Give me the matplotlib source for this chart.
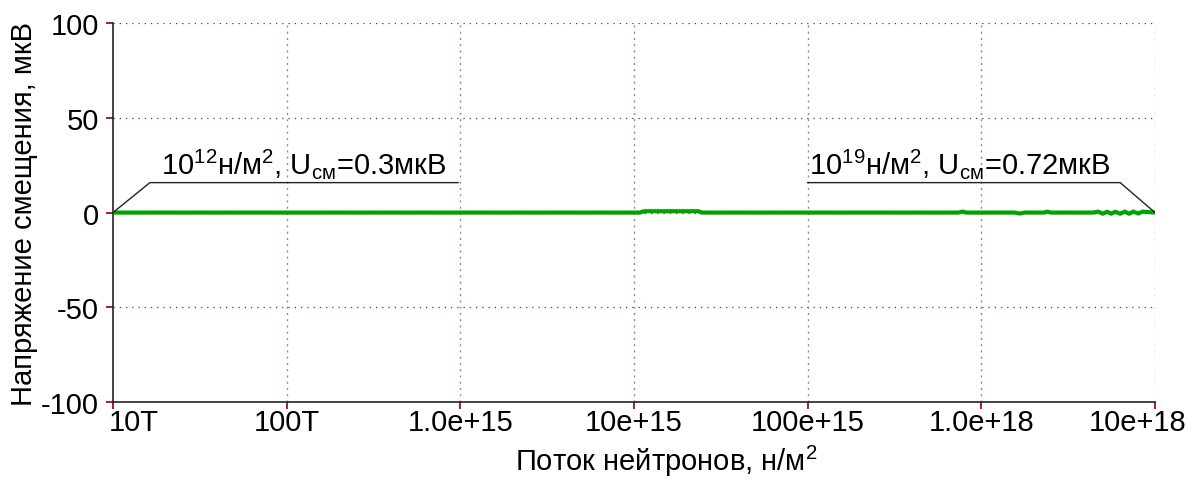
import matplotlib
matplotlib.use("Agg")
import matplotlib.pyplot as plt
from matplotlib.transforms import offset_copy

# ===========================================================
# Data
# ===========================================================
flux = [1e13, 1e14, 1e15, 1.08e16, 1.15e16, 2.35e16, 2.45e16, 1e17,
        7.4e17, 7.8e17, 8.2e17, 1.55e18, 1.66e18, 1.77e18, 2.3e18,
        2.4e18, 2.5e18, 4.4e18, 4.7e18, 5.0e18, 5.3e18, 5.6e18, 5.9e18,
        6.3e18, 6.7e18, 7.1e18, 7.5e18, 8.0e18, 8.5e18, 9.0e18, 1e19]
u_bias = [0.0, 0.0, 0.0, 0.0, 0.7, 0.7, 0.0, 0.0,
          0.0, 0.5, 0.0, 0.0, -0.5, 0.0, 0.0,
          0.5, 0.0, 0.0, 0.5, -0.6, 0.4, -0.6, 0.4,
          -0.6, 0.5, -0.6, 0.5, -0.5, 0.5, 0.3, 0.0]

xticks = [1e13, 1e14, 1e15, 1e16, 1e17, 1e18, 1e19]
xtick_labels = ['10T', '100T', '1.0e+15', '10e+15', '100e+15', '1.0e+18', '10e+18']
yticks = [-100, -50, 0, 50, 100]

# ===========================================================
# Style
# ===========================================================
GREEN = '#00a400'
GRID_H = '#8b2020'
GRID_V = '#b08080'
TICK_C = '#8b0000'
FS = 21

plt.rcParams.update({
    'font.family': ['Liberation Sans', 'DejaVu Sans'],
    'mathtext.fontset': 'custom',
    'mathtext.rm': 'Liberation Sans',
    'mathtext.it': 'Liberation Sans',
    'axes.unicode_minus': False,
})

fig = plt.figure(figsize=(12.01, 4.81), dpi=100)
ax = fig.add_axes([0.0941, 0.162, 0.8676, 0.788])

ax.plot(flux, u_bias, color=GREEN, linewidth=3.0, solid_capstyle='butt', zorder=5)

ax.set_xscale('log')
ax.set_xlim(1e13, 1e19)
ax.set_ylim(-100, 100)
ax.set_xticks(xticks)
ax.set_xticklabels(xtick_labels)
ax.minorticks_off()
ax.set_yticks(yticks)

for y in yticks[1:]:
    ax.axhline(y, color=GRID_H, linestyle=(0, (1, 4)), linewidth=0.9, zorder=0)
for x in xticks[1:]:
    ax.axvline(x, color=GRID_V, linestyle=(0, (1.5, 3)), linewidth=1.0, zorder=0)

for side in ['top', 'right']:
    ax.spines[side].set_visible(False)
for side in ['left', 'bottom']:
    ax.spines[side].set_color('#222222')
    ax.spines[side].set_linewidth(1.2)

ax.tick_params(axis='both', labelsize=FS, color=TICK_C, length=5, width=1.2,
               direction='out')
ax.tick_params(axis='y', pad=5)
ax.tick_params(axis='x', pad=-1)

# first label sits right of the axis, last one is pulled inside the figure
xlabels = ax.get_xticklabels()
xlabels[0].set_horizontalalignment('left')
xlabels[0].set_transform(offset_copy(xlabels[0].get_transform(), fig=fig,
                                     x=-4, y=0, units='dots'))
xlabels[-1].set_transform(offset_copy(xlabels[-1].get_transform(), fig=fig,
                                      x=-17, y=0, units='dots'))

ax.set_xlabel('Поток нейтронов, н/м$^2$', fontsize=FS)
ax.xaxis.set_label_coords(0.531, -0.108)
ax.set_ylabel('Напряжение смещения, мкВ', fontsize=FS, labelpad=2)

# Leader lines for annotations
lead_y = 15.8
ax.plot([flux[0], 1.63e13, 9.7e14], [u_bias[0], lead_y, lead_y],
        color='#222222', linewidth=1.0, zorder=6)
ax.text(1.9e13, lead_y + 1.5, '10$^{12}$н/м$^2$, U$_{\\mathrm{см}}$=0.3мкВ',
        fontsize=FS, ha='left', va='bottom')

ax.plot([1.0e17, 6.3e18, flux[-1]], [lead_y, lead_y, u_bias[-1]],
        color='#222222', linewidth=1.0, zorder=6)
ax.text(1.02e17, lead_y + 1.5, '10$^{19}$н/м$^2$, U$_{\\mathrm{см}}$=0.72мкВ',
        fontsize=FS, ha='left', va='bottom')

plt.savefig('out.png', dpi=100)
plt.close()
